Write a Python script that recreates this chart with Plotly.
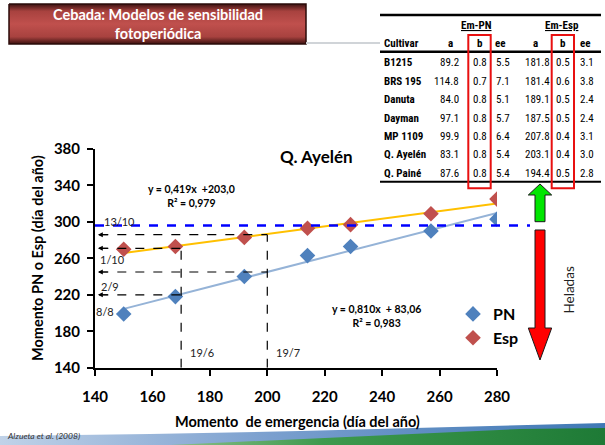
import plotly.graph_objects as go

W, H = 605, 445

# Emergence date vs. phenological stage (day of year), cultivar Q. Ayelén
emergencia = [150, 168, 192, 214, 229, 257, 280]
pn = [199, 218, 240, 263, 273, 290, 303]
esp = [270, 273, 283, 293, 297, 309, 325]

# fitted linear models (slope, intercept, R²)
fit_pn = (0.810, 83.06, 0.983)
fit_esp = (0.419, 203.0, 0.979)
fit_x = [150, 280]

# frost threshold (day of year)
helada = 296

# read-off guides: (emergence day, stage day, date label)
guias = [(200, 286, "13/10"), (170, 271, "1/10"), (200, 245, "2/9"), (170, 220, "8/8")]
fechas_emerg = [(170, "19/6"), (200, "19/7")]

# table of model coefficients per cultivar
cultivares = ["B1215", "BRS 195", "Danuta", "Dayman", "MP 1109", "Q. Ayelén", "Q. Painé"]
pn_a = [89.2, 114.8, 84.0, 97.1, 99.9, 83.1, 87.6]
pn_b = [0.8, 0.7, 0.8, 0.8, 0.8, 0.8, 0.8]
pn_ee = [5.5, 7.1, 5.1, 5.7, 6.4, 5.4, 5.4]
esp_a = [181.8, 181.4, 189.1, 187.5, 207.8, 203.1, 194.4]
esp_b = [0.5, 0.6, 0.5, 0.5, 0.4, 0.4, 0.5]
esp_ee = [3.1, 3.8, 2.4, 2.4, 3.1, 3.0, 2.8]

x_ticks = [140, 160, 180, 200, 220, 240, 260, 280]
y_ticks = [140, 180, 220, 260, 300, 340, 380]

FONT = "Lato, Carlito, Calibri, sans-serif"
NARROW = "Liberation Sans Narrow, Arial Narrow, Roboto Condensed, Liberation Sans, sans-serif"
C_PN, C_ESP = "#4F81BD", "#C0504D"


def fx(p):
    return p / W


def fy(p):
    return 1 - p / H


fig = go.Figure()

# ---- decorative background (pixel-space helper axes) ----
fig.add_trace(go.Scatter(
    x=[0, 150, 300, 450, 605, 605, 0], y=[436, 434, 431, 427, 423, 445, 445],
    xaxis="x2", yaxis="y2", mode="lines", fill="toself", line=dict(width=0),
    fillgradient=dict(type="horizontal", colorscale=[[0, "#C0D2E8"], [0.45, "#7A9FCE"], [1, "#3F78B5"]]),
    hoverinfo="skip", showlegend=False))
fig.add_trace(go.Scatter(
    x=[170, 300, 420, 520, 605, 605, 170], y=[445, 439, 433, 429, 428, 445, 445],
    xaxis="x2", yaxis="y2", mode="lines", fill="toself", line=dict(width=0),
    fillgradient=dict(type="horizontal", colorscale=[[0, "#8DBF8A"], [0.35, "#3E9A4E"], [1, "#1E7A36"]]),
    hoverinfo="skip", showlegend=False))
# header box
fig.add_trace(go.Scatter(
    x=[9, 306, 306, 9, 9], y=[4, 4, 44, 44, 4],
    xaxis="x2", yaxis="y2", mode="lines", fill="toself", line=dict(width=1.5, color="#2B0B0A"),
    fillgradient=dict(type="vertical", start=4, stop=44,
                      colorscale=[[0, "#3C1110"], [0.18, "#A8423F"], [0.5, "#C0504D"],
                                  [0.82, "#A8423F"], [1, "#3C1110"]]),
    hoverinfo="skip", showlegend=False))
fig.add_trace(go.Scatter(
    x=[306, 380], y=[43, 43], xaxis="x2", yaxis="y2", mode="lines",
    line=dict(width=2, color="#D0D4D8"), hoverinfo="skip", showlegend=False))

# ---- trend lines ----
fig.add_trace(go.Scatter(x=fit_x, y=[fit_pn[0] * v + fit_pn[1] for v in fit_x], mode="lines",
                         line=dict(color="#95B3D7", width=2), showlegend=False, hoverinfo="skip"))
fig.add_trace(go.Scatter(x=fit_x, y=[fit_esp[0] * v + fit_esp[1] for v in fit_x], mode="lines",
                         line=dict(color="#FFC000", width=2), showlegend=False, hoverinfo="skip"))

# ---- observed points ----
fig.add_trace(go.Scatter(x=emergencia, y=pn, mode="markers", name="PN",
                         marker=dict(symbol="diamond", size=12, color=C_PN)))
fig.add_trace(go.Scatter(x=emergencia, y=esp, mode="markers", name="Esp",
                         marker=dict(symbol="diamond", size=12, color=C_ESP)))

shapes = []
annotations = []

# frost threshold line, running past the plotting area
shapes.append(dict(type="line", xref="paper", yref="y", x0=fx(95), x1=fx(530), y0=helada, y1=helada,
                   line=dict(color="#0000FF", width=2.5, dash="dash")))

# dashed guides: horizontal to the y axis, vertical down to the x axis
tops = {}
for xe, ys, _ in guias:
    shapes.append(dict(type="line", xref="x", yref="y", x0=141.5, x1=xe, y0=ys, y1=ys,
                       line=dict(color="black", width=1.2, dash="dash")))
    annotations.append(dict(x=141, y=ys, ax=145, ay=ys, xref="x", yref="y", axref="x", ayref="y",
                            text="", showarrow=True, arrowhead=2, arrowsize=0.9, arrowwidth=1.1,
                            arrowcolor="black"))
    tops[xe] = max(tops.get(xe, 0), ys)
for xe, ytop in tops.items():
    shapes.append(dict(type="line", xref="x", yref="y", x0=xe, x1=xe, y0=140, y1=ytop,
                       line=dict(color="black", width=1.2, dash="dash")))

# date labels
date_pos = {"13/10": (148.7, 300.5), "1/10": (146.0, 259.0), "2/9": (145.2, 229.5), "8/8": (143.5, 201.5)}
for _, _, lab in guias:
    px_, py_ = date_pos[lab]
    annotations.append(dict(x=px_, y=py_, xref="x", yref="y", text=lab, showarrow=False,
                            font=dict(family=FONT, size=11, color="#222222")))
for xe, lab in fechas_emerg:
    annotations.append(dict(x=xe + 2.5, y=157, xref="x", yref="y", text=lab, showarrow=False,
                            xanchor="left", font=dict(family=FONT, size=11, color="#222222")))


def fmt(v, d):
    return f"{v:.{d}f}".replace(".", ",")


annotations.append(dict(x=fx(191.5), y=fy(195.5), xref="paper", yref="paper", showarrow=False,
                        text=f"y = {fmt(fit_esp[0], 3)}x  +{fmt(fit_esp[1], 1)}<br>R² = {fmt(fit_esp[2], 3)}",
                        font=dict(family=FONT, size=10.5, color="black", weight="bold")))
annotations.append(dict(x=fx(377), y=fy(315.5), xref="paper", yref="paper", showarrow=False,
                        text=f"y = {fmt(fit_pn[0], 3)}x  + {fmt(fit_pn[1], 2)}<br>R² = {fmt(fit_pn[2], 3)}",
                        font=dict(family=FONT, size=10.5, color="black", weight="bold")))

annotations.append(dict(x=fx(316), y=fy(157), xref="paper", yref="paper", showarrow=False,
                        text="Q. Ayelén", font=dict(family=FONT, size=17, color="black", weight="bold")))

# axis titles and source
annotations.append(dict(x=fx(37), y=fy(258), xref="paper", yref="paper", showarrow=False, textangle=-90,
                        text="Momento PN o Esp (día del año)",
                        font=dict(family=FONT, size=14.5, color="black", weight="bold")))
annotations.append(dict(x=fx(297), y=fy(421), xref="paper", yref="paper", showarrow=False,
                        text="Momento  de emergencia (día del año)",
                        font=dict(family=FONT, size=14.5, color="black", weight="bold")))
annotations.append(dict(x=fx(5), y=fy(436), xref="paper", yref="paper", showarrow=False, xanchor="left",
                        text="<i>Alzueta et al. (2008)</i>", font=dict(family=FONT, size=8.5, color="#333333")))

# header box title
annotations.append(dict(x=fx(157.5), y=fy(24.5), xref="paper", yref="paper", showarrow=False,
                        text="Cebada: Modelos de sensibilidad<br>fotoperiódica",
                        font=dict(family=FONT, size=14.5, color="white", weight="bold")))

# frost arrows
def poly(pts):
    d = "M " + " L ".join(f"{fx(a):.5f},{fy(b):.5f}" for a, b in pts) + " Z"
    return d


shapes.append(dict(type="path", xref="paper", yref="paper",
                   path=poly([(540, 184), (551.7, 195), (545, 195), (545, 221.7), (535, 221.7),
                              (535, 195), (528.3, 195)]),
                   fillcolor="#00E600", line=dict(color="#1A1A1A", width=1)))
shapes.append(dict(type="path", xref="paper", yref="paper",
                   path=poly([(535, 230), (545, 230), (545, 328), (551.7, 328), (540, 360),
                              (528.3, 328), (535, 328)]),
                   fillcolor="#FF0000", line=dict(color="#1A1A1A", width=1)))
annotations.append(dict(x=fx(568.5), y=fy(290), xref="paper", yref="paper", showarrow=False, textangle=-90,
                        text="Heladas", font=dict(family=FONT, size=13.5, color="#222222")))

# ---- coefficient table ----
tx0, tx1 = 380, 601
for yy, wdt in [(15, 2.5), (51.7, 2.5), (181.7, 2)]:
    shapes.append(dict(type="line", xref="paper", yref="paper", x0=fx(tx0), x1=fx(tx1),
                       y0=fy(yy), y1=fy(yy), line=dict(color="black", width=wdt)))
for xa, xb in [(468.3, 490.7), (551.7, 574)]:
    shapes.append(dict(type="rect", xref="paper", yref="paper", x0=fx(xa), x1=fx(xb),
                       y0=fy(35), y1=fy(188.3), line=dict(color="#E81010", width=2)))


def cell(x, y, text, anchor, bold=False, size=11):
    annotations.append(dict(x=fx(x), y=fy(y), xref="paper", yref="paper", showarrow=False,
                            xanchor=anchor, yanchor="middle", text=text,
                            font=dict(family=NARROW, size=size, color="black",
                                      weight="bold" if bold else "normal")))


cell(476, 25.5, "<u>Em-PN</u>", "center", bold=True)
cell(562, 25.5, "<u>Em-Esp</u>", "center", bold=True)
cell(381.5, 43.5, "Cultivar", "left", bold=True)
for xc, lab, anc in [(450, "a", "center"), (479.5, "b", "center"), (492.5, "ee", "left"),
                     (535, "a", "center"), (563, "b", "center"), (577.5, "ee", "left")]:
    cell(xc, 43.5, lab, anc, bold=True)

for i, name in enumerate(cultivares):
    yy = 62.7 + i * 18.45
    cell(381.5, yy, name, "left", bold=True)
    cell(461, yy, f"{pn_a[i]:.1f}", "right")
    cell(479.5, yy, f"{pn_b[i]:.1f}", "center")
    cell(493.5, yy, f"{pn_ee[i]:.1f}", "left")
    cell(552, yy, f"{esp_a[i]:.1f}", "right")
    cell(563, yy, f"{esp_b[i]:.1f}", "center")
    cell(578, yy, f"{esp_ee[i]:.1f}", "left")

# text is placed by its centre unless stated otherwise
for a in annotations:
    if not a.get("showarrow", True) or a.get("text"):
        a.setdefault("xanchor", "center")
        a.setdefault("yanchor", "middle")

axis_common = dict(showgrid=False, zeroline=False, showline=True, linecolor="black", linewidth=2,
                   ticks="outside", ticklen=6, tickwidth=1.5, tickcolor="black",
                   tickfont=dict(family=FONT, size=15, color="black", weight="bold"))

fig.update_layout(
    width=W, height=H, margin=dict(l=0, r=0, t=0, b=0, autoexpand=False),
    paper_bgcolor="white", plot_bgcolor="rgba(0,0,0,0)",
    xaxis=dict(range=[140, 280], tickvals=x_ticks, domain=[fx(95), fx(497)],
               ticklabelstandoff=8, **axis_common),
    yaxis=dict(range=[140, 380], tickvals=y_ticks, domain=[fy(367.7), fy(149)],
               ticklabelstandoff=4, **axis_common),
    xaxis2=dict(range=[0, W], domain=[0, 1], visible=False, anchor="y2", fixedrange=True),
    yaxis2=dict(range=[H, 0], domain=[0, 1], visible=False, anchor="x2", fixedrange=True),
    legend=dict(x=fx(453), y=fy(297), xanchor="left", yanchor="top", bgcolor="rgba(0,0,0,0)",
                font=dict(family=FONT, size=16, color="black", weight="bold"),
                itemwidth=30, tracegroupgap=0),
    shapes=shapes, annotations=annotations, showlegend=True,
)

fig.write_html("out.html")
